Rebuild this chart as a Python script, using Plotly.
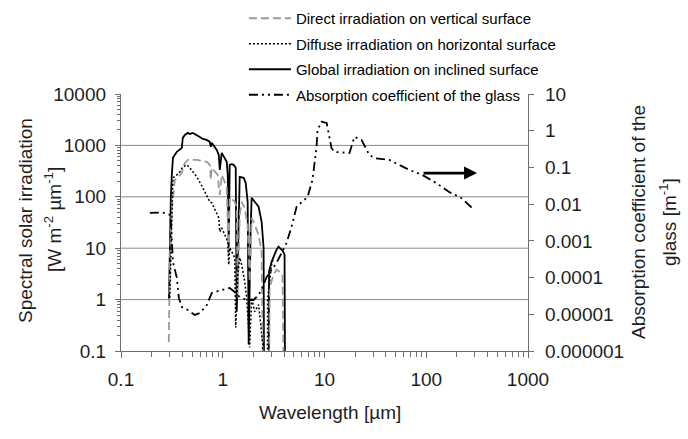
import numpy as np
import plotly.graph_objects as go

# ---------------- data ----------------
# Global irradiation on inclined surface [W m-2 um-1]
global_wl = [0.296, 0.302, 0.309, 0.316, 0.324, 0.354, 0.379, 0.396, 0.405, 0.424, 0.454, 0.475,
             0.508, 0.556, 0.595, 0.637, 0.697, 0.746, 0.763, 0.780, 0.835, 0.873, 0.914, 0.935,
             0.977, 1.047, 1.094, 1.12, 1.145, 1.17, 1.225, 1.282, 1.341, 1.371, 1.435, 1.468,
             1.606, 1.68, 1.757, 1.798, 1.88, 1.923, 2.06, 2.25, 2.41, 2.52, 2.55, 2.83, 2.85,
             3.02, 3.38, 3.54, 3.87, 4.05, 4.1]
global_val = [1.0, 22.9, 100, 267, 572, 748, 818, 894, 1400, 1600, 1750, 1672,
              1750, 1600, 1462, 1337, 1280, 1170, 935, 1119, 935, 818, 654, 334,
              715, 572, 478, 267, 9.35, 418, 430, 418, 366, 0.585, 87.5, 244,
              234, 187, 80, 0.134, 22.9, 95.6, 80, 64, 32.7, 10.2, 0.01, 0.01, 3.5,
              5.47, 9.35, 10.7, 8.94, 7.5, 0.01]

# Direct irradiation on vertical surface [W m-2 um-1]
direct_wl = [0.295, 0.302, 0.316, 0.324, 0.338, 0.362, 0.396, 0.424, 0.454, 0.508, 0.556, 0.637,
             0.697, 0.746, 0.763, 0.780, 0.835, 0.893, 0.914, 0.935, 0.977, 1.023, 1.094, 1.145,
             1.17, 1.253, 1.311, 1.371, 1.403, 1.468, 1.535, 1.643, 1.757, 1.839, 1.923, 2.06,
             2.25, 2.41, 2.5, 2.85, 2.89, 3.16, 3.38, 3.62, 3.87, 4.0]
direct_val = [0.15, 6.0, 56, 109, 214, 234, 292, 457, 523, 523, 523, 500,
              478, 418, 214, 366, 306, 267, 156, 109, 267, 214, 156, 6.8,
              95.6, 87.5, 80, 61, 1.14, 44.7, 80, 61, 28.6, 2.24, 39, 28.6,
              18.3, 8.55, 0.01, 0.01, 1.71, 3.06, 3.8, 3.5, 3.06, 0.01]

# Diffuse irradiation on horizontal surface [W m-2 um-1]
diffuse_wl = [0.302, 0.309, 0.316, 0.324, 0.354, 0.379, 0.405, 0.444, 0.475, 0.508, 0.556, 0.637,
              0.697, 0.746, 0.780, 0.835, 0.914, 0.935, 0.977, 1.047, 1.12, 1.145, 1.17, 1.225,
              1.311, 1.341, 1.403, 1.468, 1.535, 1.643, 1.718, 1.839, 1.923, 2.06, 2.25, 2.36,
              2.47, 2.52, 2.75, 2.76, 2.89, 3.02, 3.17]
diffuse_val = [1.09, 9.35, 61, 234, 267, 306, 383, 418, 366, 306, 244, 150,
               109, 80, 76.4, 56, 39, 20.9, 25, 18.3, 13.4, 4.78, 10.2, 8.55,
               6.54, 0.286, 3.06, 6.54, 4.78, 2.24, 1.09, 0.117, 1.09, 0.585, 0.8, 0.327,
               0.134, 0.01, 0.01, 1.0, 2.67, 4.78, 6.8]

# Absorption coefficient of the glass [m-1] (right axis)
absorb_wl = [0.192, 0.231, 0.271, 0.302, 0.309, 0.324, 0.354, 0.370, 0.396, 0.454, 0.531, 0.595,
             0.697, 0.780, 0.977, 1.17, 1.311, 1.468, 1.718, 2.01, 2.25, 2.47, 2.70, 3.38,
             4.24, 4.74, 5.31, 6.81, 7.62, 8.35, 8.54, 9.35, 10.5, 11.7, 12.5, 17.6,
             19.7, 23.1, 27.6, 30.9, 43.4, 54.3, 68.1, 91.4, 125, 168, 220, 296]
absorb_val = [5.75e-3, 5.9e-3, 5.75e-3, 5.1e-3, 3.27e-3, 2.66e-4, 9.8e-5, 2.8e-5, 1.58e-5, 1.31e-5,
              9.6e-6, 1.08e-5, 1.79e-5, 3.8e-5, 4.6e-5, 5.2e-5, 4.05e-5, 2.96e-5, 2.45e-5, 2.45e-5,
              3.36e-5, 5.5e-5, 1.04e-4, 2.5e-4, 8.8e-4, 2.4e-3, 8.4e-3, 0.0157, 0.0456, 0.362,
              1.05, 1.74, 1.63, 0.34, 0.264, 0.248, 0.678, 0.561, 0.219, 0.18, 0.16, 0.117,
              0.0855, 0.0625, 0.0378, 0.0215, 0.0148, 0.0070]

x_ticks = [0.1, 1, 10, 100, 1000]
x_ticktext = ["0.1", "1", "10", "100", "1000"]
yl_ticks = [0.1, 1, 10, 100, 1000, 10000]
yl_ticktext = ["0.1", "1", "10", "100", "1000", "10000"]
yr_ticks = [1e-6, 1e-5, 1e-4, 1e-3, 1e-2, 1e-1, 1, 10]
yr_ticktext = ["0.000001", "0.00001", "0.0001", "0.001", "0.01", "0.1", "1", "10"]

names = ["Direct irradiation on vertical surface",
         "Diffuse irradiation on horizontal surface",
         "Global irradiation on inclined surface",
         "Absorption coefficient of the glass"]

# arrow pointing to the right-hand axis (data units)
arrow_from = (91.0, 0.07)
arrow_to = (316.0, 0.07)

# ---------------- figure ----------------
FONT = "Liberation Sans, Arial, sans-serif"
AXC = "#6e6e6e"
TXT = "#1e1e1e"

def minor_vals(lo, hi):
    return [m * 10.0 ** e for e in range(lo, hi) for m in range(2, 10)]

fig = go.Figure()
fig.add_trace(go.Scatter(x=global_wl, y=global_val, mode="lines", name=names[2],
                         line=dict(color="black", width=1.8), legendrank=3, legendgroup="g"))
fig.add_trace(go.Scatter(x=direct_wl, y=direct_val, mode="lines", name=names[0],
                         line=dict(color="#9a9a9a", width=1.8, dash="8px,4px"), legendrank=1,
                         legendgroup="d"))
fig.add_trace(go.Scatter(x=diffuse_wl, y=diffuse_val, mode="lines", name=names[1],
                         line=dict(color="black", width=1.5, dash="2px,2px"), legendrank=2,
                         legendgroup="f"))
fig.add_trace(go.Scatter(x=absorb_wl, y=absorb_val, mode="lines", name=names[3], yaxis="y2",
                         line=dict(color="black", width=1.8, dash="9px,4px,2px,4px,2px,4px"),
                         legendrank=4, legendgroup="a"))

axis_common = dict(type="log", showgrid=False, zeroline=False, linecolor=AXC, linewidth=1.3,
                   showline=True, tickcolor=AXC, tickfont=dict(family=FONT, size=19, color=TXT))

fig.update_layout(
    width=688, height=439,
    margin=dict(l=121, r=160, t=94, b=88, autoexpand=False),
    paper_bgcolor="white", plot_bgcolor="white",
    font=dict(family=FONT, color=TXT),
    showlegend=True,
    legend=dict(x=0.302, y=1.358, xanchor="left", yanchor="top", itemwidth=42,
                bgcolor="rgba(0,0,0,0)", font=dict(family=FONT, size=15, color="black"),
                traceorder="grouped", tracegroupgap=3),
    xaxis=dict(**axis_common, range=[-1, 3], tickmode="array", tickvals=x_ticks,
               ticktext=x_ticktext, ticks="outside", ticklen=6, ticklabelstandoff=5,
               minor=dict(tickmode="array", tickvals=minor_vals(-1, 3), ticks="outside",
                          ticklen=5, tickcolor=AXC)),
    xaxis2=dict(type="log", range=[-1, 3], overlaying="x", anchor="y", side="bottom",
                tickmode="array", tickvals=x_ticks, ticks="inside", ticklen=6, tickcolor=AXC,
                showticklabels=False, showline=False, showgrid=False, zeroline=False),
    yaxis=dict(**axis_common, range=[-1, 4], tickmode="array", tickvals=yl_ticks,
               ticktext=yl_ticktext, ticks="outside", ticklen=5, ticklabelstandoff=5,
               minor=dict(tickmode="array", tickvals=minor_vals(-1, 4), ticks="outside",
                          ticklen=3, tickcolor=AXC)),
    yaxis2=dict(**axis_common, range=[-6, 1], overlaying="y", side="right", anchor="x",
                tickmode="array", tickvals=yr_ticks, ticktext=yr_ticktext, ticks="outside",
                ticklen=5, ticklabelstandoff=7),
    yaxis3=dict(type="log", range=[-6, 1], overlaying="y", side="right", anchor="x",
                tickmode="array", tickvals=yr_ticks, ticks="inside", ticklen=7, tickcolor=AXC,
                showticklabels=False, showline=False, showgrid=False, zeroline=False),
)

# horizontal grid lines at the inner decades of the left axis
for v in yl_ticks[1:-1]:
    fig.add_shape(type="line", xref="x domain", yref="y", x0=0, x1=1, y0=v, y1=v,
                  line=dict(color="#8a8a8a", width=1), layer="below")

# axis titles as annotations
ann = []
ann.append(dict(text="Spectral solar irradiation", xref="paper", yref="paper",
                x=-0.2359, y=0.5097, textangle=-90, showarrow=False,
                font=dict(family=FONT, size=19, color=TXT), xanchor="center", yanchor="middle"))
ann.append(dict(text="[W m<sup>-2</sup> \u00b5m<sup>-1</sup>]", xref="paper", yref="paper",
                x=-0.167, y=0.5097, textangle=-90, showarrow=False,
                font=dict(family=FONT, size=19, color=TXT), xanchor="center", yanchor="middle"))
ann.append(dict(text="Absorption coefficient of the", xref="paper", yref="paper",
                x=1.2727, y=0.502, textangle=-90, showarrow=False,
                font=dict(family=FONT, size=19, color=TXT), xanchor="center", yanchor="middle"))
ann.append(dict(text="glass [m<sup>-1</sup>]", xref="paper", yref="paper",
                x=1.344, y=0.502, textangle=-90, showarrow=False,
                font=dict(family=FONT, size=19, color=TXT), xanchor="center", yanchor="middle"))
ann.append(dict(text="Wavelength [\u00b5m]", xref="paper", yref="paper",
                x=0.5135, y=-0.2374, showarrow=False,
                font=dict(family=FONT, size=19, color=TXT), xanchor="center", yanchor="middle"))
ann.append(dict(x=np.log10(arrow_to[0]), y=np.log10(arrow_to[1]), xref="x", yref="y2",
                ax=np.log10(arrow_from[0]), ay=np.log10(arrow_from[1]), axref="x", ayref="y2",
                text="", showarrow=True, arrowhead=2, arrowsize=1, arrowwidth=2.6,
                arrowcolor="black"))
fig.update_layout(annotations=ann)

fig.write_html("out.html", config={"displayModeBar": False},
               post_script="document.body.style.margin='0px';")
